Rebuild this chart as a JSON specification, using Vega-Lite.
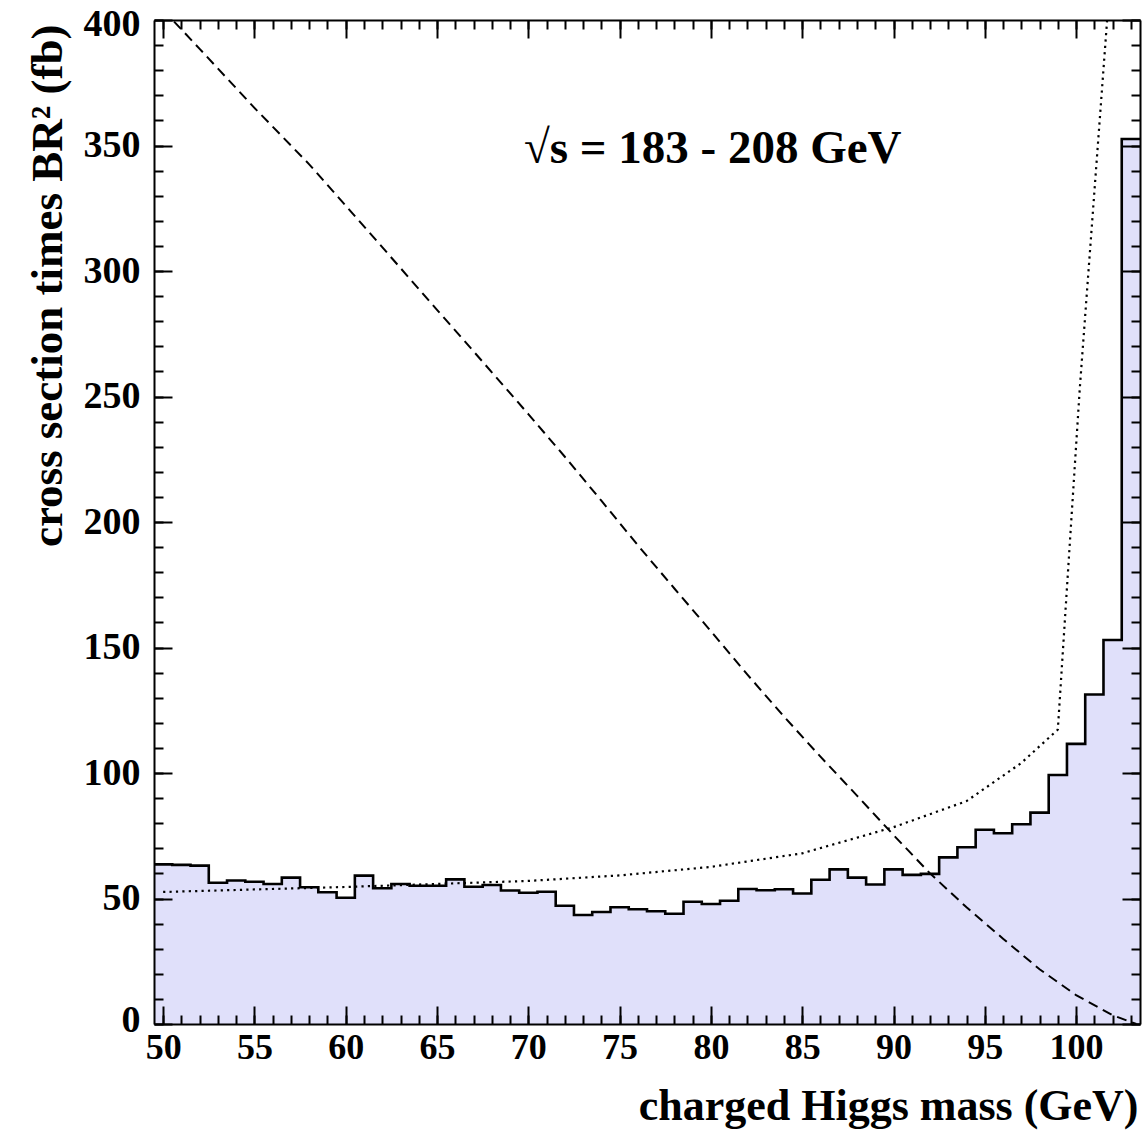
{
  "$schema": "https://vega.github.io/schema/vega-lite/v6.json",
  "width": 986,
  "height": 1004,
  "autosize": {"type": "none"},
  "padding": {"left": 154, "top": 20, "right": 3, "bottom": 109},
  "background": "white",
  "config": {"view": {"stroke": null}, "font": "Liberation Serif"},
  "datasets": {
    "hist": [
      {"lo": 49.5, "hi": 50.5, "s": 63.6}, {"lo": 50.5, "hi": 51.5, "s": 63.4}, {"lo": 51.5, "hi": 52.5, "s": 63.1},
      {"lo": 52.5, "hi": 53.5, "s": 56.3}, {"lo": 53.5, "hi": 54.5, "s": 57.2}, {"lo": 54.5, "hi": 55.5, "s": 56.7},
      {"lo": 55.5, "hi": 56.5, "s": 55.8}, {"lo": 56.5, "hi": 57.5, "s": 58.3}, {"lo": 57.5, "hi": 58.5, "s": 54.5},
      {"lo": 58.5, "hi": 59.5, "s": 52.5}, {"lo": 59.5, "hi": 60.5, "s": 50.3}, {"lo": 60.5, "hi": 61.5, "s": 59.1},
      {"lo": 61.5, "hi": 62.5, "s": 54.1}, {"lo": 62.5, "hi": 63.5, "s": 55.8}, {"lo": 63.5, "hi": 64.5, "s": 55.1},
      {"lo": 64.5, "hi": 65.5, "s": 55.1}, {"lo": 65.5, "hi": 66.5, "s": 57.6}, {"lo": 66.5, "hi": 67.5, "s": 54.7},
      {"lo": 67.5, "hi": 68.5, "s": 55.4}, {"lo": 68.5, "hi": 69.5, "s": 53.2}, {"lo": 69.5, "hi": 70.5, "s": 52.3},
      {"lo": 70.5, "hi": 71.5, "s": 52.7}, {"lo": 71.5, "hi": 72.5, "s": 47.1}, {"lo": 72.5, "hi": 73.5, "s": 43.4},
      {"lo": 73.5, "hi": 74.5, "s": 44.6}, {"lo": 74.5, "hi": 75.5, "s": 46.5}, {"lo": 75.5, "hi": 76.5, "s": 45.7},
      {"lo": 76.5, "hi": 77.5, "s": 44.9}, {"lo": 77.5, "hi": 78.5, "s": 43.9}, {"lo": 78.5, "hi": 79.5, "s": 48.7},
      {"lo": 79.5, "hi": 80.5, "s": 47.8}, {"lo": 80.5, "hi": 81.5, "s": 49.1}, {"lo": 81.5, "hi": 82.5, "s": 53.8},
      {"lo": 82.5, "hi": 83.5, "s": 53.3}, {"lo": 83.5, "hi": 84.5, "s": 53.7}, {"lo": 84.5, "hi": 85.5, "s": 52.0},
      {"lo": 85.5, "hi": 86.5, "s": 57.5}, {"lo": 86.5, "hi": 87.5, "s": 61.6}, {"lo": 87.5, "hi": 88.5, "s": 58.3},
      {"lo": 88.5, "hi": 89.5, "s": 55.6}, {"lo": 89.5, "hi": 90.5, "s": 61.6}, {"lo": 90.5, "hi": 91.5, "s": 59.4},
      {"lo": 91.5, "hi": 92.5, "s": 59.8}, {"lo": 92.5, "hi": 93.5, "s": 66.4}, {"lo": 93.5, "hi": 94.5, "s": 70.4},
      {"lo": 94.5, "hi": 95.5, "s": 77.4}, {"lo": 95.5, "hi": 96.5, "s": 76.0}, {"lo": 96.5, "hi": 97.5, "s": 79.6},
      {"lo": 97.5, "hi": 98.5, "s": 84.2}, {"lo": 98.5, "hi": 99.5, "s": 99.2}, {"lo": 99.5, "hi": 100.5, "s": 111.6},
      {"lo": 100.5, "hi": 101.5, "s": 131.3}, {"lo": 101.5, "hi": 102.5, "s": 153.0}, {"lo": 102.5, "hi": 103.5, "s": 352.6}
    ],
    "dashed": [
      {"m": 50, "s": 404}, {"m": 52, "s": 388.5}, {"m": 55, "s": 365}, {"m": 58, "s": 342.5}, {"m": 60, "s": 326},
      {"m": 62, "s": 309.5}, {"m": 65, "s": 284.5}, {"m": 67, "s": 268}, {"m": 70, "s": 243}, {"m": 72, "s": 226},
      {"m": 74, "s": 208.5}, {"m": 76, "s": 190.7}, {"m": 78, "s": 173.5}, {"m": 80, "s": 156.5}, {"m": 82, "s": 139.2},
      {"m": 84, "s": 122.5}, {"m": 86, "s": 106.5}, {"m": 88, "s": 91}, {"m": 90, "s": 75.3}, {"m": 92, "s": 60},
      {"m": 94, "s": 46.5}, {"m": 96, "s": 34}, {"m": 98, "s": 21.8}, {"m": 100, "s": 11.5}, {"m": 102, "s": 3.5},
      {"m": 103.3, "s": 0}
    ],
    "dotted": [
      {"m": 50, "s": 52.6}, {"m": 55, "s": 53.6}, {"m": 60, "s": 54.6}, {"m": 65, "s": 55.8}, {"m": 70, "s": 57.0},
      {"m": 75, "s": 59.2}, {"m": 80, "s": 62.6}, {"m": 85, "s": 68.0}, {"m": 90, "s": 78.4}, {"m": 94, "s": 88.8},
      {"m": 97, "s": 104}, {"m": 99, "s": 117.3}, {"m": 100.2, "s": 253}, {"m": 101.7, "s": 400}, {"m": 101.9, "s": 420}
    ],
    "note": [
      {"label": "√s = 183 - 208 GeV", "m": 80.1, "s": 343}
    ]
  },
  "resolve": {"axis": {"x": "independent", "y": "independent"}},
  "layer": [
    {
      "data": {"name": "hist"},
      "transform": [{"fold": ["lo", "hi"], "as": ["edge", "gev"]}],
      "mark": {"type": "area", "color": "#e0e0fa", "opacity": 1},
      "encoding": {
        "x": {"field": "gev", "type": "quantitative",
          "scale": {"domain": [49.5, 103.5], "nice": false, "zero": false},
          "axis": {"orient": "bottom", "values": [50, 55, 60, 65, 70, 75, 80, 85, 90, 95, 100], "ticks": false, "grid": false,
            "domain": true, "domainColor": "black", "domainWidth": 2, "zindex": 2,
            "labelFont": "Liberation Serif", "labelFontWeight": "bold", "labelFontSize": 36, "labelColor": "black", "labelPadding": 6,
            "title": "charged Higgs mass (GeV)", "titleFont": "Liberation Serif", "titleFontWeight": "bold", "titleFontSize": 44,
            "titleColor": "black", "titleAlign": "right", "titleBaseline": "alphabetic", "titleX": 984, "titleY": 95, "titleAngle": 0}},
        "y": {"field": "s", "type": "quantitative", "stack": null,
          "scale": {"domain": [0, 400], "nice": false, "zero": false},
          "axis": {"orient": "left", "values": [0, 50, 100, 150, 200, 250, 300, 350, 400], "ticks": false, "grid": false,
            "domain": true, "domainColor": "black", "domainWidth": 2, "zindex": 2,
            "labelFont": "Liberation Serif", "labelFontWeight": "bold", "labelFontSize": 38, "labelColor": "black", "labelPadding": 14,
            "labelFlush": true, "labelFlushOffset": 15,
            "title": "cross section times BR² (fb)", "titleFont": "Liberation Serif", "titleFontWeight": "bold", "titleFontSize": 45,
            "titleColor": "black", "titleAlign": "right", "titleBaseline": "alphabetic", "titleAngle": 270, "titleX": -93, "titleY": 4}}
      }
    },
    {
      "data": {"name": "hist"},
      "transform": [{"fold": ["lo", "hi"], "as": ["edge", "gev"]}],
      "mark": {"type": "line", "color": "black", "strokeWidth": 2.6, "strokeJoin": "miter"},
      "encoding": {
        "x": {"field": "gev", "type": "quantitative",
          "scale": {"domain": [49.5, 103.5], "nice": false, "zero": false},
          "axis": {"orient": "bottom", "values": [50, 55, 60, 65, 70, 75, 80, 85, 90, 95, 100], "labels": false, "grid": false,
            "domain": false, "ticks": true, "tickSize": -18, "tickWidth": 2, "tickColor": "black", "title": null, "zindex": 2}},
        "y": {"field": "s", "type": "quantitative",
          "scale": {"domain": [0, 400], "nice": false, "zero": false},
          "axis": {"orient": "left", "values": [0, 50, 100, 150, 200, 250, 300, 350, 400], "labels": false, "grid": false,
            "domain": false, "ticks": true, "tickSize": -18, "tickWidth": 2, "tickColor": "black", "title": null, "zindex": 2}},
        "order": [{"field": "gev", "type": "quantitative"}, {"field": "lo", "type": "quantitative"}]
      }
    },
    {
      "data": {"name": "dashed"},
      "mark": {"type": "line", "color": "black", "strokeWidth": 2, "strokeDash": [10, 6], "clip": true},
      "encoding": {
        "x": {"field": "m", "type": "quantitative",
          "scale": {"domain": [49.5, 103.5], "nice": false, "zero": false},
          "axis": {"orient": "bottom", "values": [50, 51, 52, 53, 54, 55, 56, 57, 58, 59, 60, 61, 62, 63, 64, 65, 66, 67, 68, 69, 70, 71, 72, 73, 74, 75, 76, 77, 78, 79, 80, 81, 82, 83, 84, 85, 86, 87, 88, 89, 90, 91, 92, 93, 94, 95, 96, 97, 98, 99, 100, 101, 102, 103],
            "labels": false, "grid": false, "domain": false, "ticks": true, "tickSize": -9, "tickWidth": 2, "tickColor": "black", "title": null, "zindex": 2}},
        "y": {"field": "s", "type": "quantitative",
          "scale": {"domain": [0, 400], "nice": false, "zero": false},
          "axis": {"orient": "left", "values": [0, 10, 20, 30, 40, 50, 60, 70, 80, 90, 100, 110, 120, 130, 140, 150, 160, 170, 180, 190, 200, 210, 220, 230, 240, 250, 260, 270, 280, 290, 300, 310, 320, 330, 340, 350, 360, 370, 380, 390, 400],
            "labels": false, "grid": false, "domain": false, "ticks": true, "tickSize": -9, "tickWidth": 2, "tickColor": "black", "title": null, "zindex": 2}}
      }
    },
    {
      "data": {"name": "dotted"},
      "mark": {"type": "line", "color": "black", "strokeWidth": 2.2, "strokeDash": [2.2, 4.2], "clip": true},
      "encoding": {
        "x": {"field": "m", "type": "quantitative",
          "scale": {"domain": [49.5, 103.5], "nice": false, "zero": false},
          "axis": {"orient": "top", "values": [50, 55, 60, 65, 70, 75, 80, 85, 90, 95, 100], "labels": false, "grid": false,
            "domain": true, "domainColor": "black", "domainWidth": 2, "ticks": true, "tickSize": -18, "tickWidth": 2, "tickColor": "black", "title": null, "zindex": 2}},
        "y": {"field": "s", "type": "quantitative",
          "scale": {"domain": [0, 400], "nice": false, "zero": false},
          "axis": {"orient": "right", "values": [0, 50, 100, 150, 200, 250, 300, 350, 400], "labels": false, "grid": false,
            "domain": true, "domainColor": "black", "domainWidth": 2, "ticks": true, "tickSize": -18, "tickWidth": 2, "tickColor": "black", "title": null, "zindex": 2}}
      }
    },
    {
      "data": {"name": "note"},
      "mark": {"type": "text", "font": "Liberation Serif", "fontWeight": "bold", "fontSize": 47, "align": "center", "baseline": "alphabetic", "color": "black"},
      "encoding": {
        "text": {"field": "label", "type": "nominal"},
        "x": {"field": "m", "type": "quantitative",
          "scale": {"domain": [49.5, 103.5], "nice": false, "zero": false},
          "axis": {"orient": "top", "values": [50, 51, 52, 53, 54, 55, 56, 57, 58, 59, 60, 61, 62, 63, 64, 65, 66, 67, 68, 69, 70, 71, 72, 73, 74, 75, 76, 77, 78, 79, 80, 81, 82, 83, 84, 85, 86, 87, 88, 89, 90, 91, 92, 93, 94, 95, 96, 97, 98, 99, 100, 101, 102, 103],
            "labels": false, "grid": false, "domain": false, "ticks": true, "tickSize": -9, "tickWidth": 2, "tickColor": "black", "title": null, "zindex": 2}},
        "y": {"field": "s", "type": "quantitative",
          "scale": {"domain": [0, 400], "nice": false, "zero": false},
          "axis": {"orient": "right", "values": [0, 10, 20, 30, 40, 50, 60, 70, 80, 90, 100, 110, 120, 130, 140, 150, 160, 170, 180, 190, 200, 210, 220, 230, 240, 250, 260, 270, 280, 290, 300, 310, 320, 330, 340, 350, 360, 370, 380, 390, 400],
            "labels": false, "grid": false, "domain": false, "ticks": true, "tickSize": -9, "tickWidth": 2, "tickColor": "black", "title": null, "zindex": 2}}
      }
    }
  ]
}
